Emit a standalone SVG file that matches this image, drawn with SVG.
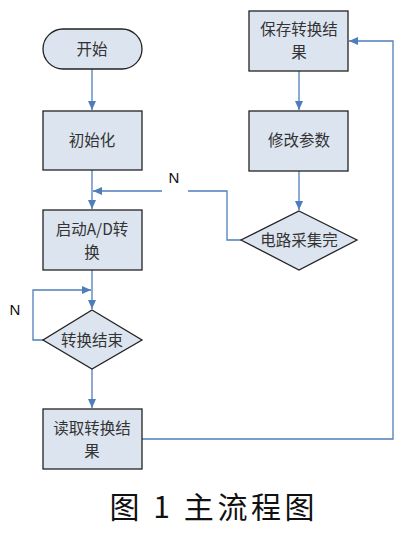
<svg xmlns="http://www.w3.org/2000/svg" width="408" height="534" viewBox="0 0 408 534">
<style>
.box{fill:#dce4ef;stroke:#222;stroke-width:1.3}
.t{font-family:"Noto Sans CJK SC","Noto Sans CJK JP",sans-serif;font-size:15.5px;fill:#333;text-anchor:middle}
.lab{font-family:"Liberation Sans",Arial,sans-serif;font-size:15px;fill:#111;text-anchor:middle}
.c{fill:none;stroke:#4f7dbb;stroke-width:1.3}
.cap{font-family:"Noto Sans CJK SC","Noto Sans CJK JP",sans-serif;font-size:30px;fill:#111;text-anchor:middle}
</style>
<defs>
<marker id="ah" markerWidth="10" markerHeight="8" refX="9" refY="4" orient="auto" markerUnits="userSpaceOnUse">
<path d="M0,0 L9,4 L0,8 z" fill="#4f7dbb"/>
</marker>
</defs>
<rect width="408" height="534" fill="#fff"/>
<g id="connectors">
<path class="c" d="M92,69 V110" marker-end="url(#ah)"/>
<path class="c" d="M92,170 V209" marker-end="url(#ah)"/>
<path class="c" d="M241,240 H227 V191 H188"/>
<path class="c" d="M162,191 H93" marker-end="url(#ah)"/>
<path class="c" d="M92,270 V309" marker-end="url(#ah)"/>
<path class="c" d="M43,340 H33 V290 H91" marker-end="url(#ah)"/>
<path class="c" d="M92,369 V408" marker-end="url(#ah)"/>
<path class="c" d="M142,439 H393 V41 H349" marker-end="url(#ah)"/>
<path class="c" d="M299,71 V110" marker-end="url(#ah)"/>
<path class="c" d="M299,171 V210" marker-end="url(#ah)"/>
<text class="lab" x="174" y="183">N</text>
<text class="lab" x="15" y="315">N</text>
</g>
<g id="start">
<rect class="box" x="43" y="29" width="99" height="40" rx="20" ry="20"/>
<text class="t" x="92" y="55">开始</text>
</g>
<g id="init">
<rect class="box" x="43" y="111" width="99" height="59"/>
<text class="t" x="92" y="146">初始化</text>
</g>
<g id="startad">
<rect class="box" x="43" y="210" width="99" height="60"/>
<text class="t" x="92" y="235">启动A/D转</text>
<text class="t" x="92" y="258">换</text>
</g>
<g id="convdone">
<polygon class="box" points="92,310 142,340 92,369 43,340"/>
<text class="t" x="92" y="346">转换结束</text>
</g>
<g id="read">
<rect class="box" x="43" y="409" width="99" height="60"/>
<text class="t" x="92" y="434">读取转换结</text>
<text class="t" x="92" y="457">果</text>
</g>
<g id="save">
<rect class="box" x="249" y="11" width="99" height="60"/>
<text class="t" x="299" y="35">保存转换结</text>
<text class="t" x="299" y="58">果</text>
</g>
<g id="modify">
<rect class="box" x="249" y="111" width="99" height="60"/>
<text class="t" x="299" y="146">修改参数</text>
</g>
<g id="collectdone">
<polygon class="box" points="299,211 357,240 299,270 241,240"/>
<text class="t" x="299" y="246">电路采集完</text>
</g>
<text class="cap" x="212" y="518" textLength="205" lengthAdjust="spacing">图 1 主流程图</text>
</svg>
